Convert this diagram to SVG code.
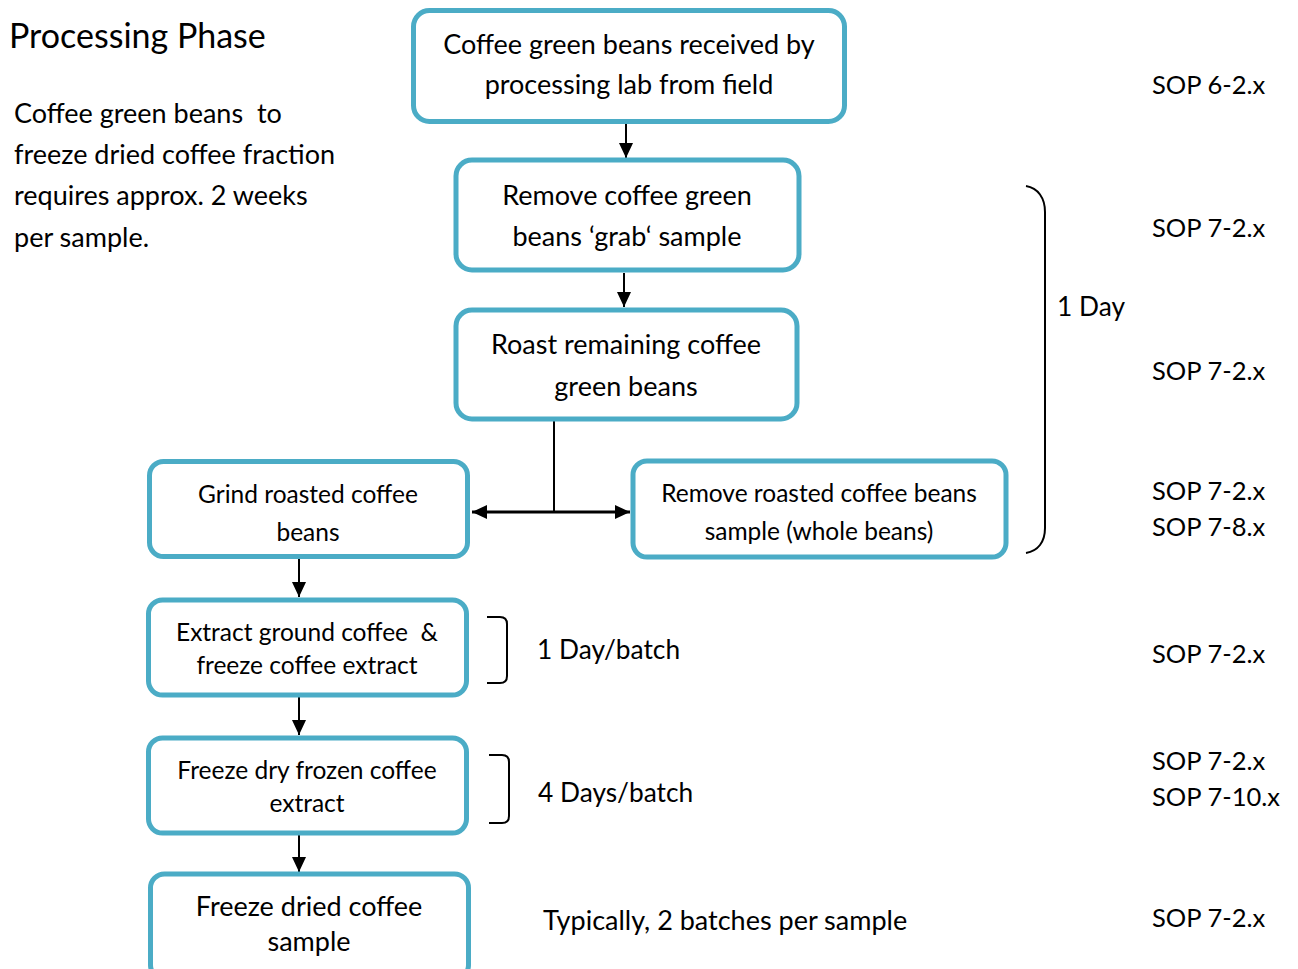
<svg xmlns="http://www.w3.org/2000/svg" width="1298" height="969" viewBox="0 0 1298 969">
<style>
.box{fill:#fff;stroke:#4bacc6;stroke-width:5}
.t{font-family:Lato,"Open Sans",sans-serif;fill:#000}
.c{text-anchor:middle}
.big{font-size:27px}
.sm{font-size:24.5px}
.sop{font-size:25.5px}
.lab{font-size:26.3px}
.ln{stroke:#000;stroke-width:2;fill:none}
.br{stroke:#000;stroke-width:2;fill:none}
</style>
<defs>
<marker id="ah" markerUnits="userSpaceOnUse" markerWidth="16" markerHeight="14" refX="15" refY="7" orient="auto-start-reverse">
<path d="M0,0 L15,7 L0,14 Z" fill="#000"/>
</marker>
</defs>
<rect width="1298" height="969" fill="#fff"/>
<text class="t" x="9" y="48" font-size="34">Processing Phase</text>
<g id="note" class="t big">
<text x="14" y="123" xml:space="preserve">Coffee green beans  to</text>
<text x="14" y="164">freeze dried coffee fraction</text>
<text x="14" y="205">requires approx. 2 weeks</text>
<text x="14" y="247">per sample.</text>
</g>
<g id="connectors">
<line class="ln" x1="626" y1="124" x2="626" y2="158" marker-end="url(#ah)"/>
<line class="ln" x1="624" y1="273" x2="624" y2="307" marker-end="url(#ah)"/>
<line class="ln" x1="554" y1="421" x2="554" y2="512"/>
<line x1="472" y1="512" x2="630" y2="512" stroke="#000" stroke-width="3" marker-start="url(#ah)" marker-end="url(#ah)"/>
<line class="ln" x1="299" y1="559" x2="299" y2="597" marker-end="url(#ah)"/>
<line class="ln" x1="299" y1="697" x2="299" y2="735" marker-end="url(#ah)"/>
<line class="ln" x1="299" y1="835" x2="299" y2="872" marker-end="url(#ah)"/>
</g>
<g id="n1"><rect class="box" x="413.5" y="10.5" width="431" height="111" rx="16"/>
<text class="t c big" x="629" y="54">Coffee green beans received by</text>
<text class="t c big" x="629" y="94">processing lab from field</text></g>
<g id="n2"><rect class="box" x="456" y="160" width="343" height="110" rx="16"/>
<text class="t c big" x="627" y="205">Remove coffee green</text>
<text class="t c big" x="627" y="246">beans ‘grab‘ sample</text></g>
<g id="n3"><rect class="box" x="456" y="310" width="341" height="109" rx="16"/>
<text class="t c big" x="626" y="354">Roast remaining coffee</text>
<text class="t c big" x="626" y="396">green beans</text></g>
<g id="n4"><rect class="box" x="149.5" y="461.5" width="318" height="95" rx="14"/>
<text class="t c sm" x="308" y="503">Grind roasted coffee</text>
<text class="t c sm" x="308" y="541">beans</text></g>
<g id="n5"><rect class="box" x="633" y="461" width="373" height="96" rx="14"/>
<text class="t c sm" x="819" y="502">Remove roasted coffee beans</text>
<text class="t c sm" x="819" y="540">sample (whole beans)</text></g>
<g id="n6"><rect class="box" x="148.5" y="600" width="318" height="95" rx="14"/>
<text class="t c sm" x="307" y="641" xml:space="preserve">Extract ground coffee  &amp;</text>
<text class="t c sm" x="307" y="674">freeze coffee extract</text></g>
<g id="n7"><rect class="box" x="148.5" y="738" width="318" height="95" rx="14"/>
<text class="t c sm" x="307" y="779">Freeze dry frozen coffee</text>
<text class="t c sm" x="307" y="812">extract</text></g>
<g id="n8"><rect class="box" x="150.5" y="874" width="318" height="105" rx="14"/>
<text class="t c big" x="309" y="916">Freeze dried coffee</text>
<text class="t c big" x="309" y="951">sample</text></g>
<g id="brackets">
<path class="br" d="M1026,186 C1038,188 1045,198 1045,212 L1045,528 C1045,542 1038,551 1026,553"/>
<path class="br" d="M487,617 L500,617 Q507,617 507,624 L507,676 Q507,683 500,683 L487,683"/>
<path class="br" d="M489,755 L502,755 Q509,755 509,762 L509,816 Q509,823 502,823 L489,823"/>
</g>
<g id="labels" class="t lab">
<text x="1057" y="316">1 Day</text>
<text x="537" y="659">1 Day/batch</text>
<text x="538" y="802">4 Days/batch</text>
<text x="543" y="930" font-size="27">Typically, 2 batches per sample</text>
</g>
<g id="sops" class="t sop">
<text x="1152" y="94">SOP 6-2.x</text>
<text x="1152" y="237">SOP 7-2.x</text>
<text x="1152" y="380">SOP 7-2.x</text>
<text x="1152" y="500">SOP 7-2.x</text>
<text x="1152" y="536">SOP 7-8.x</text>
<text x="1152" y="663">SOP 7-2.x</text>
<text x="1152" y="770">SOP 7-2.x</text>
<text x="1152" y="806">SOP 7-10.x</text>
<text x="1152" y="927">SOP 7-2.x</text>
</g>
</svg>
